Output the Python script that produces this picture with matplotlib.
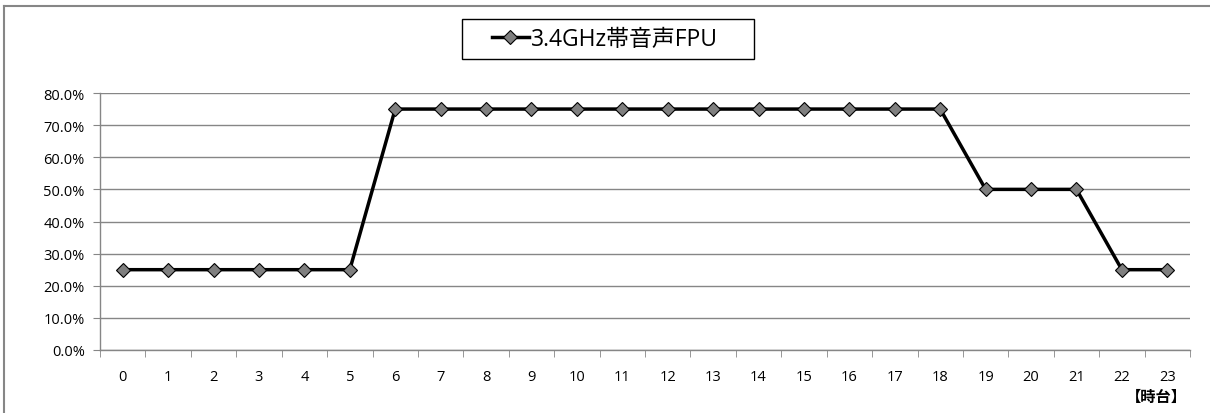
import matplotlib
matplotlib.use('Agg')
import matplotlib.pyplot as plt
from matplotlib.lines import Line2D
from matplotlib.patches import Rectangle
from matplotlib.ticker import PercentFormatter

plt.rcParams['font.family'] = ['Open Sans', 'Noto Sans CJK JP', 'DejaVu Sans']

hours = list(range(24))
share = [25, 25, 25, 25, 25, 25, 75, 75, 75, 75, 75, 75, 75, 75, 75, 75, 75, 75, 75,
         50, 50, 50, 25, 25]
series_name = '3.4GHz帯音声FPU'
unit_label = '【時台】'

W, H = 1210, 414
fig = plt.figure(figsize=(W / 100, H / 100), dpi=100)
ax = fig.add_axes([100 / W, 1 - 351 / H, 1090 / W, 257 / H])

grey = '#868686'
ax.plot(hours, [v / 100 for v in share], color='black', lw=2.5, marker='D', ms=7,
        mfc='#7f7f7f', mec='black', mew=0.8, label=series_name, zorder=3)

ax.set_xlim(-0.5, 23.5)
ax.set_ylim(0, 0.8)
ax.set_yticks([i / 10 for i in range(9)])
ax.yaxis.set_major_formatter(PercentFormatter(1.0, decimals=1))
ax.set_xticks(hours)
ax.set_xticks([h - 0.5 for h in range(25)], minor=True)
ax.tick_params(axis='x', which='major', length=0, pad=14, labelsize=10.5)
ax.tick_params(axis='x', which='minor', length=5, color=grey, direction='out')
ax.tick_params(axis='y', length=5, color=grey, labelsize=10.5, pad=6)
ax.grid(axis='y', color=grey, lw=1)
ax.set_axisbelow(True)
for s in ['top', 'right']:
    ax.spines[s].set_visible(False)
for s in ['left', 'bottom']:
    ax.spines[s].set_color(grey)
    ax.spines[s].set_linewidth(1)

# legend without its own frame; box drawn separately to get Excel-like padding
leg = fig.legend(loc='center', bbox_to_anchor=(605 / W, 1 - 40 / H), fontsize=16.5,
                 frameon=False, handlelength=1.6, handletextpad=0.1, borderaxespad=0)
fig.add_artist(Rectangle((462 / W, 1 - 60 / H), 292 / W, 40 / H, transform=fig.transFigure,
                         fill=False, edgecolor='black', lw=1))

fig.text(1187 / W, 1 - 397 / H, unit_label, ha='right', va='center', fontsize=11,
         fontweight='bold', family=['Noto Sans CJK JP', 'DejaVu Sans'])

fig.add_artist(Line2D([4 / W, 4 / W], [0, 1 - 7 / H], transform=fig.transFigure,
                      color=grey, lw=1.5))
fig.add_artist(Line2D([4 / W, 1], [1 - 7 / H, 1 - 7 / H], transform=fig.transFigure,
                      color=grey, lw=1.5))

fig.savefig('out.png', dpi=100)
